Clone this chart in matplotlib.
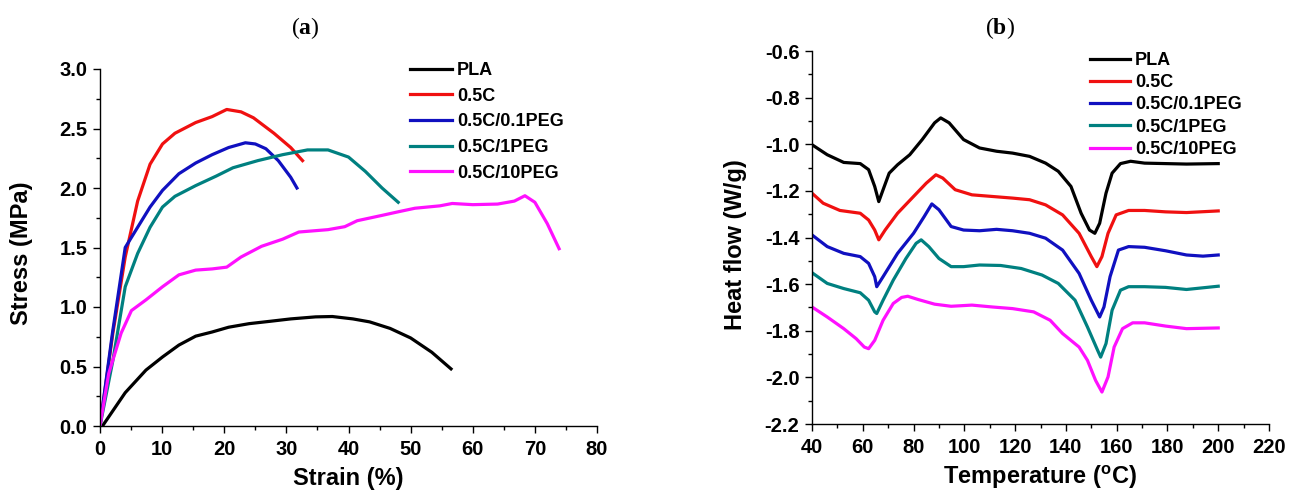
import matplotlib
matplotlib.use("Agg")
import matplotlib.pyplot as plt
from matplotlib.ticker import MultipleLocator, FormatStrFormatter

plt.rcParams['font.family'] = ['Liberation Sans', 'DejaVu Sans']
plt.rcParams['font.weight'] = 'bold'
plt.rcParams['mathtext.fontset'] = 'custom'
plt.rcParams['mathtext.rm'] = 'Liberation Sans:bold'
plt.rcParams['mathtext.bf'] = 'Liberation Serif:bold'

labels = ['PLA', '0.5C', '0.5C/0.1PEG', '0.5C/1PEG', '0.5C/10PEG']
colors = ['#000000', '#f01010', '#1010c0', '#008080', '#ff10ff']

# ---- (a) stress-strain ----
pla_strain = [0.4, 4.06, 7.4, 10.06, 12.7, 15.4, 18.05, 20.7, 24.0, 27.4, 30.7, 34.7, 37.4, 40.7, 43.4, 46.7, 50.0, 53.4, 56.5]
pla_stress = [0.0, 0.28, 0.47, 0.58, 0.68, 0.755, 0.79, 0.83, 0.86, 0.88, 0.90, 0.917, 0.92, 0.90, 0.875, 0.82, 0.74, 0.62, 0.48]

c_strain = [0, 2.07, 4.06, 6.06, 8.06, 10.06, 12.06, 15.4, 18.05, 20.4, 22.7, 24.7, 28.0, 30.7, 32.6]
c_stress = [0, 0.78, 1.42, 1.89, 2.20, 2.37, 2.46, 2.55, 2.60, 2.66, 2.64, 2.59, 2.46, 2.34, 2.23]

p01_strain = [0, 2.0, 4.06, 6.06, 8.06, 10.06, 12.7, 15.4, 18.05, 20.7, 23.4, 25.0, 26.7, 28.7, 30.7, 31.7]
p01_stress = [0, 0.78, 1.50, 1.67, 1.84, 1.98, 2.12, 2.21, 2.28, 2.34, 2.38, 2.37, 2.33, 2.23, 2.09, 2.00]

p1_strain = [0, 2.07, 4.06, 6.06, 8.06, 10.06, 12.06, 15.4, 18.7, 21.4, 25.4, 29.4, 33.4, 36.7, 40.0, 42.7, 45.4, 48.0]
p1_stress = [0, 0.55, 1.17, 1.45, 1.67, 1.84, 1.93, 2.02, 2.10, 2.17, 2.23, 2.28, 2.32, 2.32, 2.26, 2.14, 2.00, 1.88]

p10_strain = [0, 1.4, 3.4, 5.06, 7.4, 10.06, 12.7, 15.4, 18.05, 20.4, 22.7, 26.0, 29.4, 32.0, 36.7, 39.4, 41.4, 45.4, 48.0, 50.7, 54.7, 56.7, 60.0, 64.0, 66.7, 68.4, 70.0, 72.0, 73.9]
p10_stress = [0, 0.44, 0.78, 0.97, 1.06, 1.17, 1.27, 1.31, 1.32, 1.335, 1.42, 1.51, 1.57, 1.63, 1.65, 1.675, 1.725, 1.77, 1.80, 1.83, 1.85, 1.87, 1.86, 1.865, 1.89, 1.935, 1.88, 1.70, 1.49]

strains = [pla_strain, c_strain, p01_strain, p1_strain, p10_strain]
stresses = [pla_stress, c_stress, p01_stress, p1_stress, p10_stress]

# ---- (b) DSC ----
pla_T = [40, 46, 52.5, 59, 62.3, 64.7, 66.3, 68, 70.4, 73.7, 78.5, 83.4, 88.3, 90.7, 94, 99.7, 106, 112.7, 119, 125.7, 132, 137, 142, 146, 149.3, 151.4, 153.3, 155.8, 158.2, 161.5, 165.5, 171, 179.3, 187.5, 200]
pla_hf = [-1.002, -1.045, -1.078, -1.083, -1.109, -1.181, -1.246, -1.195, -1.124, -1.088, -1.045, -0.98, -0.908, -0.887, -0.908, -0.98, -1.016, -1.030, -1.038, -1.052, -1.081, -1.116, -1.181, -1.296, -1.368, -1.382, -1.339, -1.21, -1.124, -1.083, -1.073, -1.081, -1.083, -1.085, -1.083]

c_T = [40, 44.4, 51, 59, 62.3, 64.7, 66.3, 68.8, 73.7, 80, 85, 88.8, 91.5, 96.4, 103, 111, 119, 125.7, 132, 138.7, 145.2, 150, 152.2, 154.2, 156.6, 159.8, 164.7, 171, 179.3, 187.5, 200]
c_hf = [-1.21, -1.253, -1.284, -1.296, -1.325, -1.368, -1.41, -1.368, -1.296, -1.224, -1.167, -1.131, -1.145, -1.195, -1.217, -1.224, -1.231, -1.238, -1.26, -1.303, -1.382, -1.482, -1.525, -1.482, -1.382, -1.303, -1.284, -1.284, -1.29, -1.293, -1.286]

p01_T = [40, 46, 52.5, 59, 62.3, 64.7, 65.5, 68, 73.7, 80, 84.2, 87.2, 90, 94.8, 99.7, 106, 112.7, 119, 125.7, 132, 138.7, 145.2, 150, 153.3, 155, 157.4, 160.7, 164.7, 171, 179.3, 187.5, 194, 200]
p01_hf = [-1.389, -1.439, -1.468, -1.482, -1.511, -1.568, -1.611, -1.568, -1.468, -1.382, -1.31, -1.256, -1.281, -1.353, -1.368, -1.371, -1.365, -1.371, -1.382, -1.403, -1.454, -1.554, -1.669, -1.741, -1.698, -1.568, -1.454, -1.439, -1.442, -1.457, -1.475, -1.48, -1.475]

p1_T = [40, 46, 52.5, 59, 62.3, 64.7, 65.5, 68, 72, 77, 81, 83, 86, 90, 94.8, 99.7, 106, 114.3, 122.4, 130.6, 137, 143.6, 148.5, 152.5, 153.7, 155.8, 158.2, 161.5, 164.7, 171, 179.3, 187.5, 200]
p1_hf = [-1.551, -1.597, -1.619, -1.637, -1.669, -1.719, -1.726, -1.669, -1.583, -1.49, -1.425, -1.41, -1.439, -1.49, -1.525, -1.525, -1.518, -1.52, -1.533, -1.561, -1.597, -1.669, -1.784, -1.884, -1.913, -1.855, -1.712, -1.626, -1.611, -1.611, -1.614, -1.623, -1.609]

p10_T = [40, 46, 52.5, 57.4, 60.6, 62.3, 64.7, 68, 72, 75.3, 77.7, 81.8, 88.3, 94.8, 103, 111, 119, 127.3, 133.8, 138.7, 145.2, 148.5, 151.7, 154.2, 156.6, 159, 162.3, 166.3, 171, 179.3, 187.5, 200]
p10_hf = [-1.698, -1.741, -1.791, -1.834, -1.87, -1.877, -1.841, -1.755, -1.683, -1.657, -1.652, -1.666, -1.686, -1.695, -1.69, -1.698, -1.705, -1.719, -1.755, -1.812, -1.87, -1.927, -2.013, -2.063, -1.998, -1.87, -1.791, -1.766, -1.766, -1.78, -1.791, -1.788]

temps = [pla_T, c_T, p01_T, p1_T, p10_T]
flows = [pla_hf, c_hf, p01_hf, p1_hf, p10_hf]

fig = plt.figure(figsize=(12.97, 4.93), dpi=100)
axa = fig.add_axes([100/1297, 1-426/493, 497/1297, 357/493])
axb = fig.add_axes([812/1297, 1-424/493, 457/1297, 373/493])

lw = 2.3
for x, y, lab, col in zip(strains, stresses, labels, colors):
    axa.plot(x, y, color=col, lw=lw, label=lab)
for x, y, lab, col in zip(temps, flows, labels, colors):
    axb.plot(x, y, color=col, lw=lw, label=lab)

for ax in (axa, axb):
    for s in ('top', 'right'):
        ax.spines[s].set_visible(False)
    for s in ('left', 'bottom'):
        ax.spines[s].set_linewidth(1.0)
    ax.tick_params(which='major', direction='out', length=5, width=1, labelsize=14.5)
    ax.tick_params(axis='x', which='major', pad=5)
    ax.tick_params(axis='y', which='major', pad=4)
    ax.tick_params(which='minor', direction='out', length=3, width=1)

axa.set_xlim(0, 80)
axa.set_ylim(0, 3.0)
axa.xaxis.set_major_locator(MultipleLocator(10))
axa.xaxis.set_minor_locator(MultipleLocator(5))
axa.yaxis.set_major_locator(MultipleLocator(0.5))
axa.yaxis.set_minor_locator(MultipleLocator(0.25))
axa.yaxis.set_major_formatter(FormatStrFormatter('%.1f'))
axa.set_xlabel('Strain (%)', fontsize=17, fontweight='bold', va='center')
axa.set_ylabel('Stress (MPa)', fontsize=17, fontweight='bold', va='center')
axa.xaxis.set_label_coords(0.5, (426-479)/357)
axa.yaxis.set_label_coords((21-100)/497, (426-253)/357)

axb.set_xlim(40, 220)
axb.set_ylim(-2.2, -0.6)
axb.xaxis.set_major_locator(MultipleLocator(20))
axb.xaxis.set_minor_locator(MultipleLocator(10))
axb.yaxis.set_major_locator(MultipleLocator(0.2))
axb.yaxis.set_minor_locator(MultipleLocator(0.1))
axb.yaxis.set_major_formatter(FormatStrFormatter('%.1f'))
axb.set_xlabel(r'Temperature ($\mathregular{^o}$C)', fontsize=17, fontweight='bold', va='center')
axb.set_ylabel('Heat flow (W/g)', fontsize=17, fontweight='bold', va='center')
axb.xaxis.set_label_coords(0.5, (424-477)/373)
axb.yaxis.set_label_coords((736-812)/457, (424-245)/373)

la = axa.legend(loc='upper left', bbox_to_anchor=((410-100)/497, (426-62)/357), frameon=False,
                prop={'size': 13, 'weight': 'bold'}, handlelength=2.3, handletextpad=0.3,
                labelspacing=0.48, borderpad=0, borderaxespad=0)
lb = axb.legend(loc='upper left', bbox_to_anchor=((1090-812)/457, (424-52)/373), frameon=False,
                prop={'size': 13, 'weight': 'bold'}, handlelength=2.2, handletextpad=0.3,
                labelspacing=0.29, borderpad=0, borderaxespad=0)

fig.text(305/1297, 1-28/493, r'($\mathbf{a}$)', ha='center', va='center', fontsize=17,
         family='Liberation Serif', fontweight='normal')
fig.text(1000/1297, 1-28/493, r'($\mathbf{b}$)', ha='center', va='center', fontsize=17,
         family='Liberation Serif', fontweight='normal')

fig.savefig('out.png', dpi=100)
